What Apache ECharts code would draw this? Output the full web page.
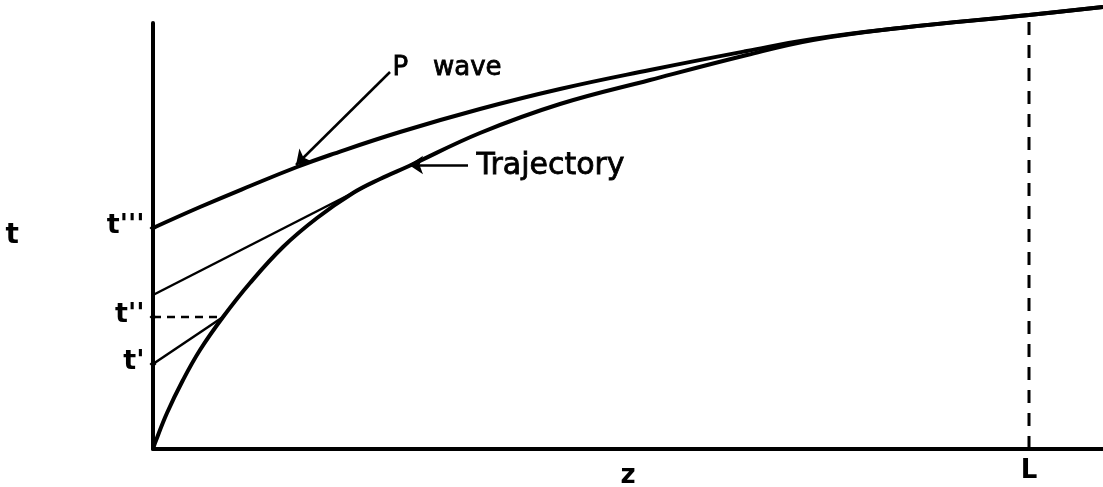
<!DOCTYPE html>
<html>
<head>
<meta charset="utf-8">
<script src="https://cdn.jsdelivr.net/npm/echarts@6/dist/echarts.min.js"></script>
<style>html,body{margin:0;padding:0;background:#fff}#c{width:1103px;height:487px}</style>
</head>
<body>
<div id="c"></div>
<script>
// z in arbitrary distance units (L = 876), t in arbitrary time units
var L_POS = 876;
var pWaveZ = [0, 47, 97, 144, 177, 247, 327, 407, 497, 594, 660, 747, 876, 950];
var pWaveT = [221, 242, 263, 282, 294, 317, 340, 360, 379, 398, 410, 421, 434, 442];
var trajZ = [0, 2, 14, 30, 47, 70, 97, 130, 164, 200, 227, 256, 327, 407, 497, 594, 660, 747, 876, 950];
var trajT = [0, 6, 36, 69, 99, 132, 166, 202, 231, 256, 270, 283, 316, 345, 369, 394, 409, 421, 434, 442];
var upperChord = [[0, 154], [227, 270]];
var lowerChord = [[0, 85], [70, 132]];
var dashH = [[0, 132], [70, 132]];
var dashV = [[L_POS, 0], [L_POS, 434]];
var tickValues = [221, 132, 85];
var tickLabels = ["t'''", "t''", "t'"];
var pArrow = [[237, 377], [143, 284]];
var trajArrow = [[315, 284], [256, 284]];

function zip(a, b) { return a.map(function (v, i) { return [v, b[i]]; }); }

var chart = echarts.init(document.getElementById('c'), null, {renderer: 'canvas'});
var FONT = 'DejaVu Sans';
chart.setOption({
  animation: false,
  backgroundColor: '#fff',
  grid: {left: 153, right: 0, top: 23, bottom: 38, containLabel: false, outerBoundsMode: 'none'},
  xAxis: {
    type: 'value', min: 0, max: 950, interval: L_POS,
    name: 'z', nameLocation: 'middle', nameGap: 14, nameMoveOverlap: false,
    nameTextStyle: {color: '#000', fontSize: 26, fontWeight: 'bold', fontFamily: FONT},
    axisLine: {lineStyle: {color: '#000', width: 4}},
    axisTick: {show: false},
    splitLine: {show: false},
    axisLabel: {
      color: '#000', fontSize: 26, fontWeight: 'bold', fontFamily: FONT, margin: 9,
      showMinLabel: false, showMaxLabel: false,
      formatter: function (v) { return v === L_POS ? 'L' : ''; }
    }
  },
  yAxis: {
    type: 'value', min: 0, max: 426,
    name: 't', nameLocation: 'middle', nameGap: 134, nameRotate: 0,
    nameTextStyle: {color: '#000', fontSize: 28, fontWeight: 'bold', fontFamily: FONT},
    axisLine: {show: true, lineStyle: {color: '#000', width: 4}},
    axisTick: {show: false},
    axisLabel: {show: false},
    splitLine: {show: false}
  },
  series: [
    {type: 'line', data: zip(pWaveZ, pWaveT), smooth: 0.45, symbol: 'none', clip: false,
     lineStyle: {color: '#000', width: 4}},
    {type: 'line', data: zip(trajZ, trajT), smooth: 0.4, symbol: 'none', clip: false,
     lineStyle: {color: '#000', width: 4}},
    {type: 'line', data: upperChord, symbol: 'none', lineStyle: {color: '#000', width: 2.5}},
    {type: 'line', data: lowerChord, symbol: 'none', lineStyle: {color: '#000', width: 2.5}},
    {type: 'line', data: dashH, symbol: 'none', lineStyle: {color: '#000', width: 2.5, type: [8, 6]}},
    {type: 'line', data: dashV, symbol: 'none', clip: false, lineStyle: {color: '#000', width: 3, type: [13, 10]}},
    {type: 'lines', coordinateSystem: 'cartesian2d', symbol: ['none', 'arrow'], symbolSize: 14,
     lineStyle: {color: '#000', width: 2.5, opacity: 1},
     data: [{coords: pArrow}, {coords: trajArrow}]},
    {type: 'scatter', symbol: 'diamond', symbolSize: 7, itemStyle: {color: '#000', opacity: 1},
     emphasis: {disabled: true},
     data: tickValues.map(function (v, i) {
       return {value: [0, v], label: {show: true, formatter: tickLabels[i], color: '#000'}};
     }),
     label: {position: 'left', distance: 5, offset: [0, -2], color: '#000', fontSize: 27, fontWeight: 'bold', fontFamily: FONT}},
    {type: 'scatter', symbolSize: 1, itemStyle: {color: 'rgba(0,0,0,0)', opacity: 1},
     emphasis: {disabled: true},
     data: [
       {value: pArrow[0], label: {show: true, formatter: 'P   wave', fontSize: 26, offset: [0, -4]}},
       {value: trajArrow[0], label: {show: true, formatter: 'Trajectory', fontSize: 30, distance: 8, offset: [0, 1]}}
     ],
     label: {position: 'right', distance: 2, color: '#000', fontFamily: FONT, textBorderColor: '#000', textBorderWidth: 0.8}}
  ]
});
</script>
</body>
</html>
